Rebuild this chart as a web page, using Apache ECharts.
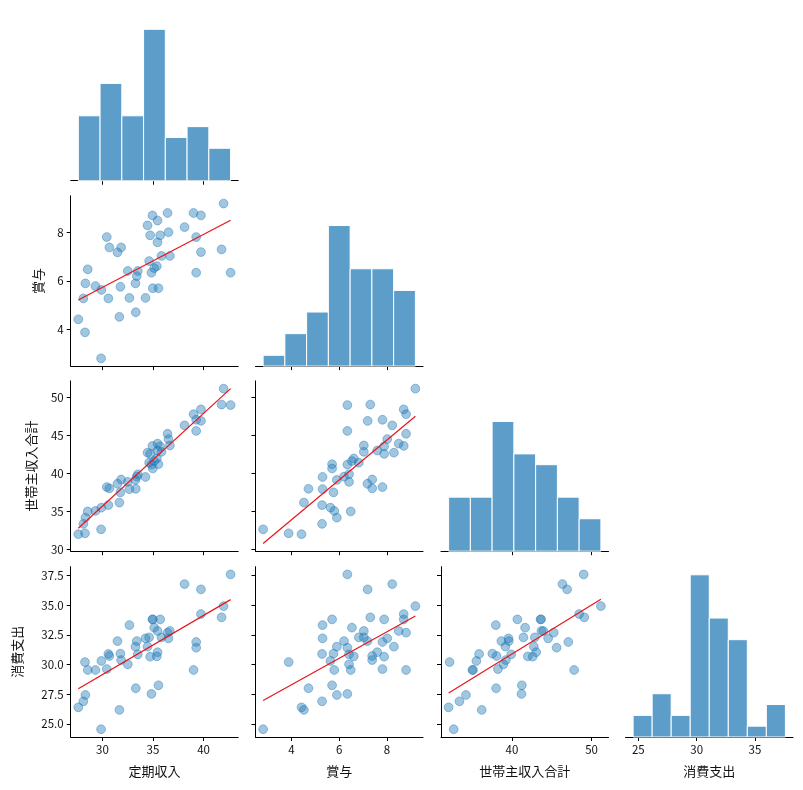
<!DOCTYPE html>
<html>
<head>
<meta charset="utf-8">
<script src="https://cdn.jsdelivr.net/npm/echarts@6/dist/echarts.min.js"></script>
<style>
html,body{margin:0;padding:0;background:#fff;}
#chart{width:803px;height:790px;}
</style>
</head>
<body>
<div id="chart"></div>
<script>
// ---- data ----
const varNames = ['定期収入', '賞与', '世帯主収入合計', '消費支出'];
const teikiShunyu = [27.62,28.12,28.28,28.32,28.55,29.31,29.87,29.90,30.43,30.59,30.69,31.49,31.68,31.78,31.85,32.51,32.67,33.27,33.30,33.40,33.50,34.26,34.46,34.62,34.72,34.85,34.95,34.98,35.12,35.38,35.45,35.45,35.54,35.71,35.84,36.44,36.53,36.67,38.12,39.01,39.27,39.27,39.74,39.74,41.78,41.98,42.67];
const shoyo = [4.42,5.28,3.88,5.90,6.48,5.79,2.81,5.63,7.81,5.28,7.38,7.18,4.52,5.76,7.38,6.41,5.30,5.90,4.71,6.20,6.41,5.30,8.29,6.82,7.88,6.34,8.70,5.70,6.53,6.61,8.49,7.59,5.70,7.88,7.03,8.80,8.01,7.03,8.22,8.80,7.81,6.34,8.70,7.19,7.30,9.19,6.34];
const setaiGokei = [32.04,33.40,32.16,34.22,35.03,35.10,32.68,35.53,38.24,35.87,38.07,38.67,36.20,37.54,39.23,38.92,37.97,39.17,38.01,39.60,39.91,39.56,42.75,41.44,42.60,41.19,43.65,40.68,41.65,41.99,43.94,43.04,41.24,43.59,42.87,45.24,44.54,43.70,46.34,47.81,47.08,45.61,48.44,46.93,49.08,51.17,49.01];
const shohiShishutsu = [26.40,26.91,30.22,27.44,29.55,29.55,24.55,30.31,29.63,30.90,30.73,31.99,26.18,30.93,30.39,30.03,33.34,31.52,28.01,31.99,30.87,32.22,31.52,32.30,30.67,27.53,33.82,33.82,33.12,30.70,32.84,31.05,28.26,33.82,32.30,32.70,32.22,32.84,36.80,29.55,31.91,31.43,34.27,36.35,33.99,34.94,37.61];

// histogram bar counts
const histTeiki = [6, 9, 6, 14, 4, 5, 3];
const histShoyo = [1, 3, 5, 13, 9, 9, 7];
const histSetai = [5, 5, 12, 9, 8, 5, 3];
const histShohi = [2, 4, 2, 15, 11, 9, 1, 3];

// tick labels
const xTickValues = [[30, 35, 40], [4, 6, 8], [40, 50], [25, 30, 35]];
const yTickValues = [[], [4, 6, 8], [30, 35, 40, 45, 50], [25, 27.5, 30, 32.5, 35, 37.5]];

// ---- build ----
const series = [teikiShunyu, shoyo, setaiGokei, shohiShishutsu];
const hists = [histTeiki, histShoyo, histSetai, histShohi];
const N = 4;

const colLeft = [70.7, 255.5, 441.0, 625.5];
const colWidth = 167.5;
const rowBottom = [180.7, 366.1, 551.2, 737.0];
const rowHeight = 170.3;
const yNameGap = [0, 26, 33, 47];
const FONT = '"Noto Sans CJK JP", "Noto Sans", sans-serif';
const TXT = '#111';

function mm(a) { return [Math.min(...a), Math.max(...a)]; }
function fit(xs, ys) {
  const n = xs.length;
  const mx = xs.reduce((s, v) => s + v, 0) / n;
  const my = ys.reduce((s, v) => s + v, 0) / n;
  let sxy = 0, sxx = 0;
  for (let i = 0; i < n; i++) { sxy += (xs[i] - mx) * (ys[i] - my); sxx += (xs[i] - mx) ** 2; }
  const b = sxy / sxx;
  return [my - b * mx, b];
}

// regression lines
const lines = {};
for (let r = 1; r < N; r++) for (let c = 0; c < r; c++) {
  const [a, b] = fit(series[c], series[r]);
  const [x0, x1] = mm(series[c]);
  lines[r + '_' + c] = [[x0, a + b * x0], [x1, a + b * x1]];
}
// axis limits
const colLim = [], rowLim = [];
for (let i = 0; i < N; i++) {
  const [lo, hi] = mm(series[i]);
  const pad = (hi - lo) * 0.05;
  colLim.push([lo - pad, hi + pad]);
  let vals = series[i].slice();
  for (let c = 0; c < i; c++) lines[i + '_' + c].forEach(p => vals.push(p[1]));
  const [l2, h2] = mm(vals);
  const p2 = (h2 - l2) * 0.05;
  rowLim.push([l2 - p2, h2 + p2]);
}
const maxCount = Math.max(...hists.flat());
const diagMax = maxCount * 1.05;

const grids = [], xAxes = [], yAxes = [], sers = [];
let gi = 0;
for (let r = 0; r < N; r++) {
  for (let c = 0; c <= r; c++) {
    grids.push({
      left: colLeft[c], top: rowBottom[r] - rowHeight,
      width: colWidth, height: rowHeight, containLabel: false
    });
    const bottomRow = r === N - 1;
    xAxes.push({
      type: 'value', gridIndex: gi, min: colLim[c][0], max: colLim[c][1],
      splitLine: { show: false },
      axisLine: { show: true, onZero: false, lineStyle: { color: '#000', width: 1 } },
      axisTick: { show: true, inside: false, length: 4, customValues: xTickValues[c], lineStyle: { color: '#000', width: 1 } },
      axisLabel: { show: bottomRow, customValues: xTickValues[c], margin: 7, fontSize: 11.5, color: TXT, fontFamily: FONT },
      name: bottomRow ? varNames[c] : '', nameLocation: 'middle', nameGap: 28,
      nameTextStyle: { fontSize: 13, color: TXT, fontFamily: FONT }
    });
    if (r === c) {
      yAxes.push({
        type: 'value', gridIndex: gi, min: 0, max: diagMax, show: false,
        splitLine: { show: false }
      });
      const h = hists[c];
      const [lo, hi] = mm(series[c]);
      const w = (hi - lo) / h.length;
      const bars = h.map((cnt, k) => [lo + k * w, lo + (k + 1) * w, cnt]);
      sers.push({
        type: 'custom', xAxisIndex: gi, yAxisIndex: gi, data: bars,
        renderItem: function (params, api) {
          const p0 = api.coord([api.value(0), api.value(2)]);
          const p1 = api.coord([api.value(1), 0]);
          return {
            type: 'rect',
            shape: { x: p0[0], y: p0[1], width: p1[0] - p0[0], height: p1[1] - p0[1] },
            style: { fill: 'rgba(31,119,180,0.72)', stroke: '#ffffff', lineWidth: 1 }
          };
        },
        silent: true, animation: false
      });
    } else {
      const fmt = r === 3 ? (v => Number(v).toFixed(1)) : (v => String(v));
      yAxes.push({
        type: 'value', gridIndex: gi, min: rowLim[r][0], max: rowLim[r][1],
        splitLine: { show: false },
        axisLine: { show: true, onZero: false, lineStyle: { color: '#000', width: 1 } },
        axisTick: { show: true, inside: false, length: 4, customValues: yTickValues[r], lineStyle: { color: '#000', width: 1 } },
        axisLabel: { show: c === 0, customValues: yTickValues[r], margin: 7, fontSize: 11.5, color: TXT, fontFamily: FONT, formatter: fmt },
        name: c === 0 ? varNames[r] : '', nameLocation: 'middle', nameRotate: 90, nameGap: yNameGap[r],
        nameTextStyle: { fontSize: 13, color: TXT, fontFamily: FONT }
      });
      const pts = series[c].map((v, k) => [v, series[r][k]]);
      sers.push({
        type: 'scatter', xAxisIndex: gi, yAxisIndex: gi, data: pts,
        symbol: 'circle', symbolSize: 8.8,
        itemStyle: { color: 'rgba(31,119,180,0.42)', borderColor: 'rgba(31,119,180,0.42)', borderWidth: 1, opacity: 1 },
        emphasis: { disabled: true }, silent: true, animation: false, z: 2
      });
      sers.push({
        type: 'line', xAxisIndex: gi, yAxisIndex: gi, data: lines[r + '_' + c],
        showSymbol: false, symbol: 'none',
        lineStyle: { color: '#e8151b', width: 1.2 },
        silent: true, animation: false, z: 3
      });
    }
    gi++;
  }
}

const chart = echarts.init(document.getElementById('chart'), null, { renderer: 'canvas' });
chart.setOption({
  backgroundColor: '#ffffff',
  animation: false,
  grid: grids, xAxis: xAxes, yAxis: yAxes, series: sers
});
</script>
</body>
</html>
